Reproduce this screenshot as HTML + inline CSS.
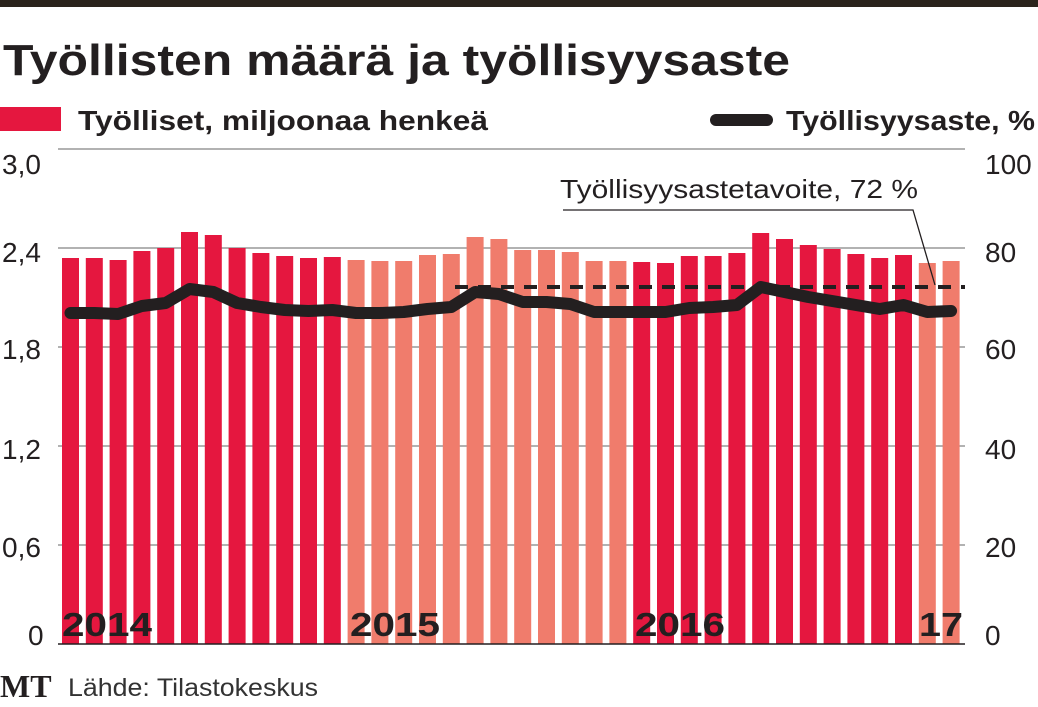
<!DOCTYPE html>
<html><head><meta charset="utf-8"><style>
body{margin:0;background:#fff;width:1038px;height:702px;overflow:hidden}
text{font-family:"Liberation Sans","DejaVu Sans",sans-serif}
</style></head><body>
<svg width="1038" height="702" viewBox="0 0 1038 702" xmlns="http://www.w3.org/2000/svg">
<rect x="0" y="0" width="1038" height="7" fill="#2b241c"/>
<text x="3" y="75" font-size="44" font-weight="bold" fill="#231f20" textLength="787" lengthAdjust="spacingAndGlyphs">Työllisten määrä ja työllisyysaste</text>
<rect x="0" y="107" width="61" height="24" fill="#e5173f"/>
<text x="78" y="130" font-size="28" font-weight="bold" fill="#231f20" textLength="410" lengthAdjust="spacingAndGlyphs">Työlliset, miljoonaa henkeä</text>
<line x1="716" y1="120" x2="767" y2="120" stroke="#231f20" stroke-width="12" stroke-linecap="round"/>
<text x="786" y="130" font-size="28" font-weight="bold" fill="#231f20" textLength="249" lengthAdjust="spacingAndGlyphs">Työllisyysaste, %</text>
<g stroke="#999" stroke-width="1.5">
<line x1="58" y1="149" x2="965" y2="149"/><line x1="58" y1="248" x2="965" y2="248"/>
<line x1="58" y1="347" x2="965" y2="347"/><line x1="58" y1="446" x2="965" y2="446"/>
<line x1="58" y1="545" x2="965" y2="545"/>
</g>
<g font-size="28" fill="#231f20">
<text x="2" y="174">3,0</text><text x="2" y="262">2,4</text><text x="2" y="359">1,8</text>
<text x="2" y="459">1,2</text><text x="2" y="557">0,6</text><text x="28" y="645">0</text>
<text x="985" y="174">100</text><text x="985" y="262">80</text><text x="985" y="359">60</text>
<text x="985" y="459">40</text><text x="985" y="557">20</text><text x="985" y="645">0</text>
</g>
<g fill="#e5173f">
<rect x="62" y="258" width="17" height="386"/><rect x="85.8" y="258" width="17" height="386"/>
<rect x="109.6" y="260" width="17" height="384"/><rect x="133.4" y="251" width="17" height="393"/>
<rect x="157.2" y="248" width="17" height="396"/><rect x="181" y="232" width="17" height="412"/>
<rect x="204.8" y="235" width="17" height="409"/><rect x="228.6" y="248" width="17" height="396"/>
<rect x="252.4" y="253" width="17" height="391"/><rect x="276.2" y="256" width="17" height="388"/>
<rect x="300" y="258" width="17" height="386"/><rect x="323.8" y="257" width="17" height="387"/>
<rect x="633.2" y="262" width="17" height="382"/><rect x="657" y="263" width="17" height="381"/>
<rect x="680.8" y="256" width="17" height="388"/><rect x="704.6" y="256" width="17" height="388"/>
<rect x="728.4" y="253" width="17" height="391"/><rect x="752.2" y="233" width="17" height="411"/>
<rect x="776" y="239" width="17" height="405"/><rect x="799.8" y="245" width="17" height="399"/>
<rect x="823.6" y="249" width="17" height="395"/><rect x="847.4" y="254" width="17" height="390"/>
<rect x="871.2" y="258" width="17" height="386"/><rect x="895" y="255" width="17" height="389"/>
</g>
<g fill="#f07c6c">
<rect x="347.6" y="260" width="17" height="384"/><rect x="371.4" y="261" width="17" height="383"/>
<rect x="395.2" y="261" width="17" height="383"/><rect x="419" y="255" width="17" height="389"/>
<rect x="442.8" y="254" width="17" height="390"/><rect x="466.6" y="237" width="17" height="407"/>
<rect x="490.4" y="239" width="17" height="405"/><rect x="514.2" y="250" width="17" height="394"/>
<rect x="538" y="250" width="17" height="394"/><rect x="561.8" y="252" width="17" height="392"/>
<rect x="585.6" y="261" width="17" height="383"/><rect x="609.4" y="261" width="17" height="383"/>
<rect x="918.8" y="263" width="17" height="381"/><rect x="942.6" y="261" width="17" height="383"/>
</g>
<line x1="58" y1="644" x2="965" y2="644" stroke="#231f20" stroke-width="1.5"/>
<line x1="455" y1="287" x2="965" y2="287" stroke="#231f20" stroke-width="4" stroke-dasharray="13,10"/>
<polyline fill="none" stroke="#231f20" stroke-width="1.3" points="563,210 913,210 935,285"/>
<text x="560" y="198" font-size="26" fill="#231f20" textLength="358" lengthAdjust="spacingAndGlyphs">Työllisyysastetavoite, 72 %</text>
<polyline fill="none" stroke="#231f20" stroke-width="12" stroke-linejoin="round" stroke-linecap="round" points="70.5,313 94.3,313 118.1,314 141.9,306 165.7,303 189.5,289 213.3,292 237.1,303 260.9,307 284.7,310 308.5,311 332.3,310 356.1,313 379.9,313 403.7,312 427.5,309 451.3,307 475.1,292 498.9,294 522.7,302 546.5,302 570.3,304 594.1,312 617.9,312 641.7,312 665.5,312 689.3,308 713.1,307 736.9,305 760.7,287 784.5,292 808.3,297 832.1,301 855.9,305 879.7,309 903.5,305 927.3,312 951.1,311"/>
<g font-size="33" font-weight="bold" fill="#231f20">
<text x="62" y="636" textLength="90" lengthAdjust="spacingAndGlyphs">2014</text>
<text x="350" y="636" textLength="90" lengthAdjust="spacingAndGlyphs">2015</text>
<text x="635" y="636" textLength="90" lengthAdjust="spacingAndGlyphs">2016</text>
<text x="919" y="636" textLength="44" lengthAdjust="spacingAndGlyphs">17</text>
</g>
<text x="0" y="697" font-size="32" font-weight="bold" fill="#231f20" style="font-family:'Liberation Serif',serif">MT</text>
<text x="68" y="696" font-size="25" fill="#333" textLength="250" lengthAdjust="spacingAndGlyphs">Lähde: Tilastokeskus</text>
</svg>
</body></html>
